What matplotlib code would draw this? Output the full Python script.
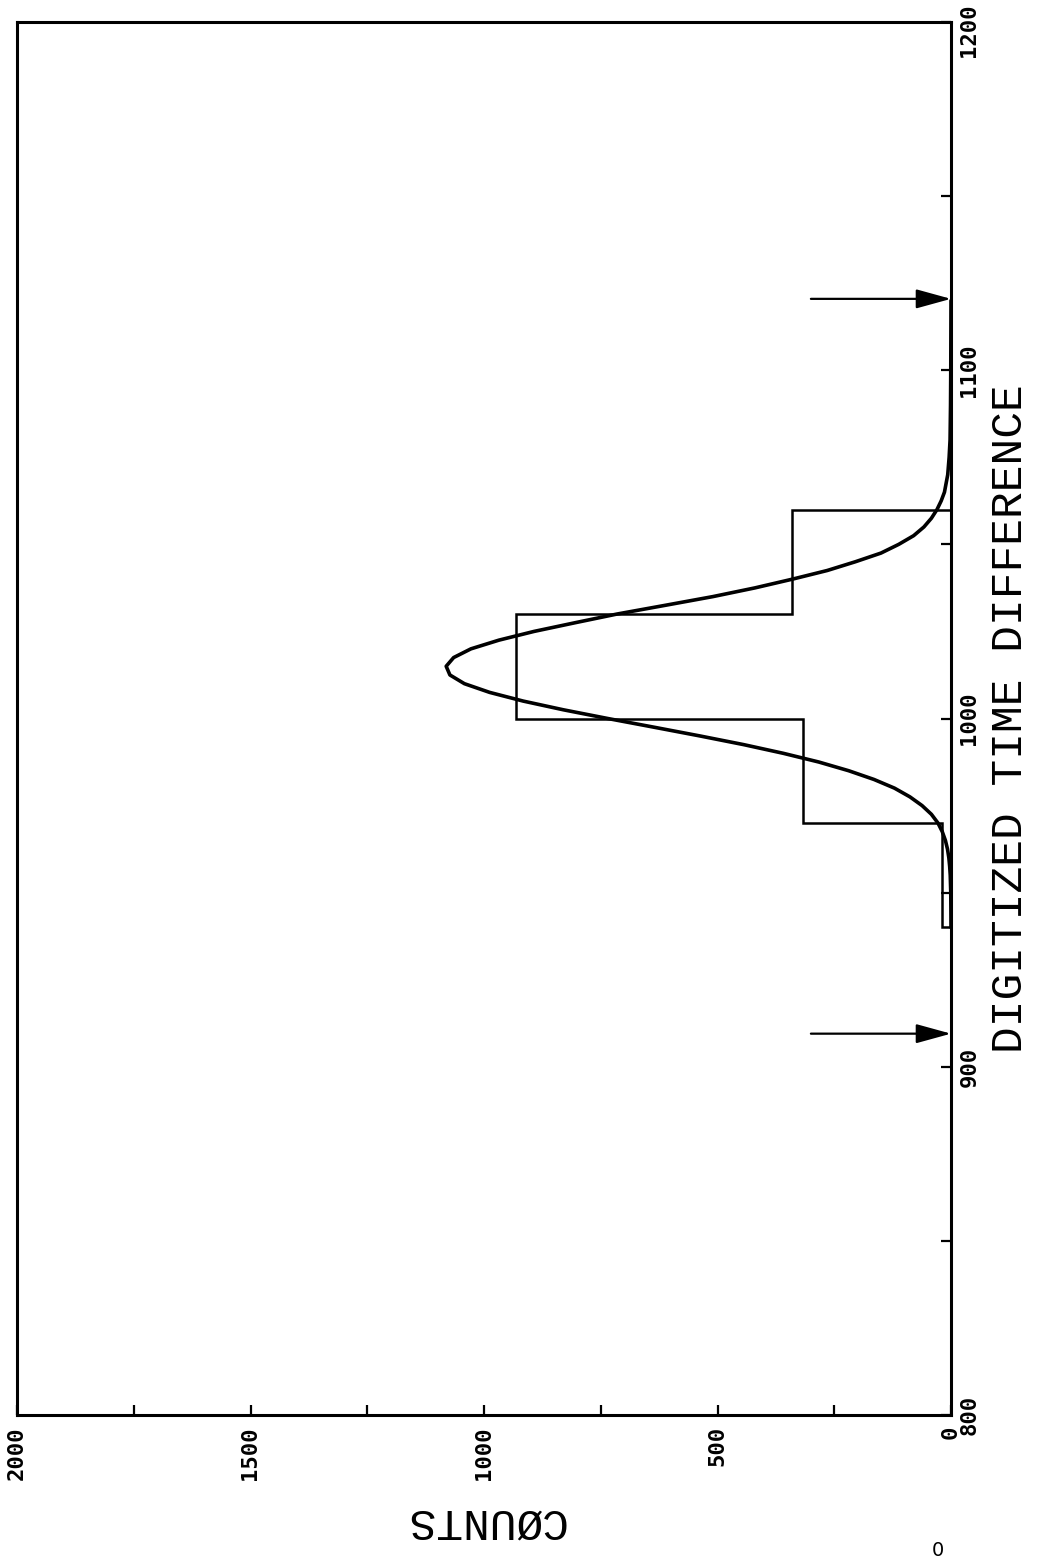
"""Digitized time difference histogram with fitted peak (rotated plotter layout)."""

import matplotlib
matplotlib.use("Agg")
import matplotlib.pyplot as plt
from matplotlib.ticker import MultipleLocator
from matplotlib.transforms import offset_copy

# histogram bins (digitized time difference) and counts
BIN_EDGES = [940, 970, 1000, 1030, 1060]
BIN_COUNTS = [20, 317, 931, 340]

# fitted curve
CURVE_T = [940, 945, 950, 955, 957.5, 960, 962.5, 965, 967.5, 970, 972.5,
           975, 977.5, 980, 982.5, 985, 987.5, 990, 992.5, 995, 997.5,
           1000, 1002.5, 1005, 1007.5, 1010, 1012.5, 1015, 1017.5, 1020,
           1022.5, 1025, 1027.5, 1030, 1032.5, 1035, 1037.5, 1040, 1042.5,
           1045, 1047.5, 1050, 1052.5, 1055, 1057.5, 1060, 1062.5, 1065,
           1070, 1075, 1080, 1090, 1100, 1120]
CURVE_COUNTS = [0, 0.2, 0.5, 1.6, 2.8, 4.6, 7.5, 12, 18.7, 28, 42,
                62, 88, 121, 165, 219, 283, 359, 444, 538, 636,
                735, 830, 916, 988, 1042, 1073, 1081, 1065, 1028,
                968, 893, 805, 715, 612, 510, 420, 340, 265,
                205, 150, 112, 80, 58, 42, 30, 21, 14,
                7, 4, 2, 1, 0.5, 0]

# window markers
ARROW_T = [909.5, 1120.5]
ARROW_TAIL = 300

COUNT_TICKS = [0, 500, 1000, 1500, 2000]
TIME_TICKS = [800, 900, 1000, 1100, 1200]

MONO = "DejaVu Sans Mono"
THIN = "Liberation Mono"

fig = plt.figure(figsize=(10.37, 15.62), dpi=100)
ax = fig.add_axes([17 / 1037, 1 - 1415 / 1562, 934 / 1037, 1393 / 1562])

# counts run right-to-left along the bottom, time runs up the right side
ax.stairs(BIN_COUNTS, BIN_EDGES, orientation="horizontal", baseline=0,
          color="black", lw=1.8)
ax.plot(CURVE_COUNTS, CURVE_T, color="black", lw=2.6, solid_capstyle="round",
        solid_joinstyle="round")

for t in ARROW_T:
    ax.annotate("", xy=(0, t), xytext=(ARROW_TAIL, t),
                arrowprops=dict(arrowstyle="-|>,head_length=0.8,head_width=0.22",
                                color="black", lw=1.6, mutation_scale=27,
                                shrinkA=0, shrinkB=0))

ax.set_xlim(2000, 0)
ax.set_ylim(800, 1200)

for s in ax.spines.values():
    s.set_linewidth(2.2)

ax.yaxis.tick_right()
ax.set_xticks(COUNT_TICKS)
ax.set_yticks(TIME_TICKS)
ax.xaxis.set_minor_locator(MultipleLocator(250))
ax.yaxis.set_minor_locator(MultipleLocator(50))
ax.tick_params(which="both", direction="in", length=7, width=1.6,
               top=False, left=False)
ax.tick_params(axis="x", pad=8)
ax.tick_params(axis="y", pad=6)

for lab in ax.get_xticklabels():
    lab.set_rotation(90)
    lab.set_fontfamily(MONO)
    lab.set_fontweight("bold")
    lab.set_fontsize(16)
    lab.set_ha("center")
    lab.set_va("top")
ylabs = ax.get_yticklabels()
for lab in ylabs:
    lab.set_rotation(90)
    lab.set_fontfamily(MONO)
    lab.set_fontweight("bold")
    lab.set_fontsize(16)
    lab.set_ha("left")
    lab.set_va("center")
# top label sits a little lower so it stays on the page
ylabs[-1].set_transform(offset_copy(ylabs[-1].get_transform(), fig=fig,
                                    x=0, y=-6, units="points"))

ax.set_xlabel("CØUNTS", family=THIN, fontsize=32, rotation=180,
              ha="center", va="center")
ax.xaxis.set_label_coords(0.5, -(1521 - 1415) / 1393)

ax.yaxis.set_label_position("right")
ax.set_ylabel("DIGITIZED TIME DIFFERENCE", family=THIN, fontsize=32,
              rotation=90, ha="center", va="center", rotation_mode="default")
ax.yaxis.set_label_coords((1010 - 17) / 934, 0.5)

# stray mark at the page foot
fig.text(938 / 1037, 1 - 1550 / 1562, "0", fontsize=14, ha="center", va="center")

fig.savefig("out.png", dpi=100)
